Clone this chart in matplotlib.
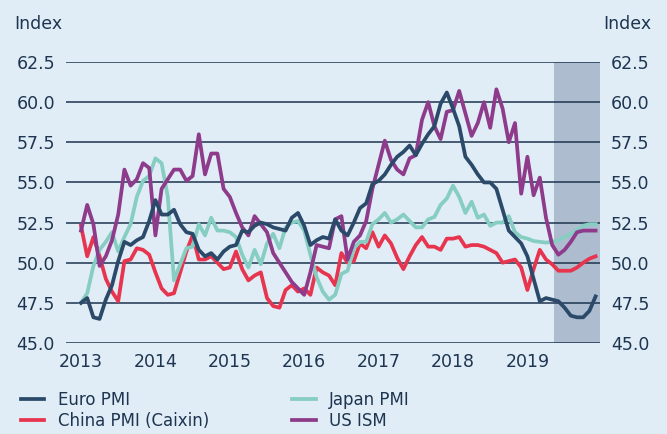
import numpy as np
import matplotlib
matplotlib.use("Agg")
import matplotlib.pyplot as plt

# monthly readings, Jan 2013 .. Dec 2019 (last months are the forecast)
years = [2013, 2014, 2015, 2016, 2017, 2018, 2019]

euro_pmi = [47.5, 47.8, 46.6, 46.5, 47.7, 48.6, 50.1, 51.3, 51.1, 51.4, 51.6, 52.6,
            53.9, 53.0, 53.0, 53.3, 52.4, 51.9, 51.8, 50.8, 50.4, 50.6, 50.2, 50.7,
            51.0, 51.1, 52.0, 51.9, 52.3, 52.5, 52.4, 52.2, 52.1, 52.0, 52.8, 53.1,
            52.3, 51.1, 51.4, 51.6, 51.5, 52.7, 52.0, 51.7, 52.5, 53.4, 53.7, 54.9,
            55.1, 55.5, 56.1, 56.6, 56.9, 57.3, 56.7, 57.4, 58.0, 58.5, 59.9, 60.6,
            59.6, 58.5, 56.6, 56.1, 55.5, 55.0, 55.0, 54.6, 53.3, 52.0, 51.6, 51.2,
            50.4, 49.0, 47.6, 47.8, 47.7, 47.6, 47.2, 46.7, 46.6, 46.6, 47.0, 47.9]

china_pmi = [52.3, 50.4, 51.6, 50.4, 49.0, 48.2, 47.6, 50.1, 50.2, 50.9, 50.8, 50.5,
             49.4, 48.4, 48.0, 48.1, 49.4, 50.7, 51.7, 50.2, 50.2, 50.4, 50.0, 49.6,
             49.7, 50.7, 49.6, 48.9, 49.2, 49.4, 47.8, 47.3, 47.2, 48.3, 48.6, 48.2,
             48.4, 48.0, 49.7, 49.4, 49.2, 48.6, 50.6, 50.0, 50.1, 51.2, 50.9, 51.9,
             51.0, 51.7, 51.2, 50.3, 49.6, 50.4, 51.1, 51.6, 51.0, 51.0, 50.8, 51.5,
             51.5, 51.6, 51.0, 51.1, 51.1, 51.0, 50.8, 50.6, 50.0, 50.1, 50.2, 49.7,
             48.3, 49.6, 50.8, 50.2, 49.9, 49.5, 49.5, 49.5, 49.7, 50.0, 50.25, 50.4]

japan_pmi = [47.5, 48.1, 49.8, 50.8, 51.3, 51.9, 50.7, 51.6, 52.4, 54.1, 55.1, 55.4,
             56.5, 56.2, 54.1, 48.9, 49.9, 50.9, 51.0, 52.4, 51.7, 52.8, 52.0, 52.0,
             51.9, 51.6, 50.5, 49.7, 50.8, 49.9, 51.2, 51.8, 50.9, 52.2, 52.5, 52.6,
             52.0, 50.5, 49.1, 48.2, 47.7, 48.0, 49.3, 49.5, 50.9, 51.3, 51.3, 52.4,
             52.7, 53.1, 52.5, 52.7, 53.0, 52.6, 52.2, 52.2, 52.7, 52.85, 53.6, 54.0,
             54.8, 54.1, 53.1, 53.8, 52.8, 53.0, 52.3, 52.5, 52.5, 52.9, 51.9, 51.6,
             51.5, 51.35, 51.3, 51.25, 51.3, 51.4, 51.6, 51.8, 52.05, 52.3, 52.4, 52.4]

us_ism = [52.0, 53.6, 52.4, 49.8, 50.4, 51.4, 53.0, 55.8, 54.8, 55.2, 56.2, 55.9,
          51.7, 54.6, 55.2, 55.8, 55.8, 55.1, 55.4, 58.0, 55.5, 56.8, 56.8, 54.6,
          54.1, 53.1, 52.2, 51.7, 52.9, 52.4, 51.9, 50.6, 50.0, 49.4, 48.8, 48.4,
          48.0, 49.4, 51.1, 51.0, 50.9, 52.7, 52.9, 50.2, 51.3, 51.7, 52.6, 54.6,
          56.1, 57.6, 56.4, 55.8, 55.5, 56.5, 56.7, 58.9, 60.0, 58.5, 57.7, 59.4,
          59.5, 60.7, 59.3, 57.9, 58.7, 60.0, 58.4, 60.8, 59.6, 57.5, 58.7, 54.3,
          56.6, 54.2, 55.3, 52.8, 51.1, 50.5, 50.8, 51.3, 51.9, 52.0, 52.0, 52.0]

series_names = ["Euro PMI", "China PMI (Caixin)", "Japan PMI", "US ISM"]
colors = ["#2b4a6a", "#e8354f", "#86cdc2", "#8d3b8a"]

bg = "#e1edf6"
navy = "#1d3550"

fig = plt.figure(figsize=(6.67, 4.34), dpi=100, facecolor=bg)
ax = fig.add_axes([66 / 667, 1 - 343 / 434, 534 / 667, 281 / 434])
ax.set_facecolor(bg)

months = np.arange(len(euro_pmi))
ax.axvspan(76.3, 84, color="#adbdcf", lw=0, zorder=1)

lines = []
for vals, c, name in zip([euro_pmi, china_pmi, japan_pmi, us_ism], colors, series_names):
    ln, = ax.plot(months, vals, color=c, lw=2.7, solid_joinstyle="round", zorder=3, label=name)
    lines.append(ln)
# euro on top like the reference
lines[0].set_zorder(4)

ax.set_xlim(-2.42, 83.71)
ax.set_ylim(45, 62.5)
ax.set_yticks(np.arange(45, 62.6, 2.5))
ax.set_yticklabels(["%.1f" % v for v in np.arange(45, 62.6, 2.5)])
ax.set_xticks([12 * i for i in range(len(years))])
ax.set_xticklabels([str(y) for y in years])
ax.grid(axis="y", color=navy, lw=1.1, zorder=2)
ax.grid(axis="x", visible=False)
for s in ax.spines.values():
    s.set_visible(False)
ax.tick_params(axis="y", length=0, labelsize=12.5, labelcolor=navy, pad=8, labelright=True)
ax.tick_params(axis="x", length=0, labelsize=12.5, labelcolor=navy, pad=7)

fig.text(14 / 667, 1 - 24 / 434, "Index", ha="left", va="center", fontsize=12.5, color=navy)
fig.text(651 / 667, 1 - 24 / 434, "Index", ha="right", va="center", fontsize=12.5, color=navy)

fig.legend(handles=lines, labels=series_names, ncol=2, loc="upper left",
           bbox_to_anchor=(6 / 667, 1 - 376 / 434), frameon=False, fontsize=12,
           handlelength=1.4, handletextpad=0.8, columnspacing=5.0, labelspacing=0.15,
           labelcolor=navy)

fig.savefig("out.png", dpi=100, facecolor=bg)
